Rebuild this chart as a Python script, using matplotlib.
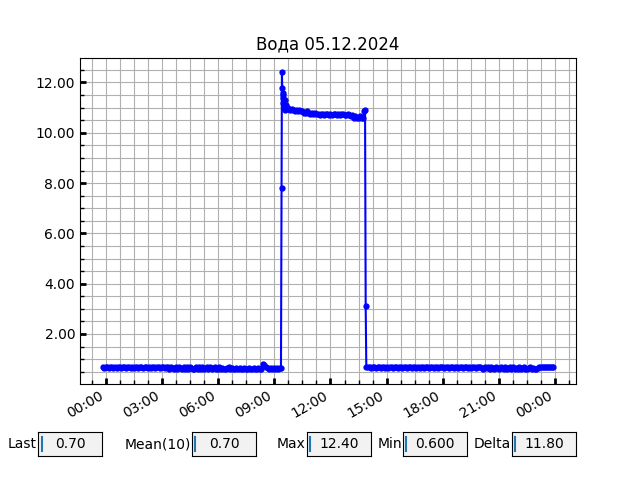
import matplotlib
matplotlib.use("Agg")
import matplotlib.pyplot as plt
import matplotlib.dates as mdates
from matplotlib.ticker import MultipleLocator, FormatStrFormatter
import pandas as pd

title = "Вода 05.12.2024"

# Morning low segment: 5-min samples starting 04.12.2024 23:48
morning_start = "2024-12-04 23:48"
morning_values = [
    0.7, 0.65, 0.7,
    0.7, 0.65, 0.7, 0.7, 0.65, 0.7, 0.65, 0.7, 0.7, 0.65, 0.7, 0.7,   # 00
    0.65, 0.7, 0.7, 0.65, 0.7, 0.65, 0.7, 0.7, 0.65, 0.7, 0.7, 0.65,  # 01
    0.7, 0.7, 0.65, 0.7, 0.65, 0.7, 0.7, 0.65, 0.7, 0.7, 0.65, 0.7,   # 02
    0.7, 0.65, 0.7, 0.7, 0.6, 0.7, 0.65, 0.6, 0.7, 0.6, 0.7, 0.65,   # 03
    0.6, 0.7, 0.6, 0.7, 0.6, 0.7, 0.65, 0.6, 0.6, 0.7, 0.6, 0.7,     # 04
    0.6, 0.7, 0.6, 0.65, 0.7, 0.6, 0.7, 0.6, 0.65, 0.7, 0.6, 0.6,    # 05
    0.7, 0.6, 0.65, 0.6, 0.6, 0.65, 0.7, 0.6, 0.65, 0.6, 0.6, 0.65,  # 06
    0.6, 0.65, 0.6, 0.6, 0.65, 0.6, 0.6, 0.65, 0.6, 0.6, 0.65, 0.6,  # 07
    0.6, 0.65, 0.6, 0.6, 0.8, 0.75, 0.7, 0.65, 0.6, 0.65, 0.6, 0.65, # 08
    0.6, 0.65, 0.6, 0.65,                                             # 09
]

# Rise: explicit times (05.12.2024) and values
rise_times = ["09:21", "09:23", "09:24", "09:25", "09:26", "09:27", "09:28",
              "09:29", "09:31", "09:33", "09:35", "09:37"]
rise_values = [0.65, 7.8, 12.4, 11.8, 11.5, 11.6, 11.2,
               11.4, 11.0, 11.3, 10.9, 11.1]

# Plateau: 5-min samples starting 09:40
plateau_start = "2024-12-05 09:40"
plateau_values = [
    10.95, 11.0, 10.9, 10.95,
    10.9, 10.85, 10.9, 10.85, 10.9, 10.85, 10.85, 10.8, 10.8, 10.85, 10.8, 10.75,
    10.8, 10.75, 10.8, 10.75, 10.75, 10.7, 10.75, 10.75, 10.7, 10.75, 10.75, 10.7,
    10.75, 10.7, 10.75, 10.75, 10.7, 10.75, 10.7, 10.75, 10.75, 10.7, 10.7, 10.75,
    10.7, 10.65, 10.7, 10.6, 10.65, 10.6, 10.6, 10.65, 10.6, 10.6,
]

# Drop: explicit times and values
drop_times = ["13:49", "13:51", "13:53", "13:55"]
drop_values = [10.85, 10.9, 3.1, 0.7]

# Evening low segment: 5-min samples starting 05.12.2024 14:01
evening_start = "2024-12-05 14:01"
evening_values = [
    0.7, 0.7, 0.65, 0.7, 0.7, 0.65, 0.7, 0.7, 0.65, 0.7, 0.7, 0.65,  # 14
    0.7, 0.65, 0.7, 0.7, 0.65, 0.7, 0.7, 0.65, 0.7, 0.7, 0.65, 0.7,  # 15
    0.7, 0.65, 0.7, 0.7, 0.65, 0.7, 0.7, 0.65, 0.7, 0.65, 0.7, 0.7,  # 16
    0.65, 0.7, 0.7, 0.65, 0.7, 0.7, 0.65, 0.7, 0.7, 0.65, 0.7, 0.7,  # 17
    0.7, 0.65, 0.7, 0.7, 0.65, 0.7, 0.7, 0.65, 0.7, 0.7, 0.65, 0.7,  # 18
    0.7, 0.65, 0.7, 0.7, 0.65, 0.7, 0.65, 0.7, 0.7, 0.65, 0.7, 0.7,  # 19
    0.7, 0.65, 0.6, 0.7, 0.65, 0.7, 0.6, 0.7, 0.65, 0.6, 0.7, 0.65,  # 20
    0.6, 0.7, 0.65, 0.6, 0.7, 0.6, 0.65, 0.7, 0.6, 0.7, 0.6, 0.65,   # 21
    0.6, 0.7, 0.6, 0.65, 0.7, 0.6, 0.6, 0.65, 0.7, 0.6, 0.65, 0.6,   # 22
    0.6, 0.65, 0.7, 0.7, 0.7, 0.7, 0.7, 0.7, 0.7, 0.7, 0.7, 0.7,     # 23
]

stat_labels = ["Last", "Mean(10)", "Max", "Min", "Delta"]
stat_values = ["0.70", "0.70", "12.40", "0.600", "11.80"]
stat_lefts = [0.06, 0.30, 0.48, 0.63, 0.80]

day = "2024-12-05 "
t_m = pd.date_range(morning_start, periods=len(morning_values), freq="5min")
t_r = pd.to_datetime([day + s for s in rise_times])
t_p = pd.date_range(plateau_start, periods=len(plateau_values), freq="5min")
t_d = pd.to_datetime([day + s for s in drop_times])
t_e = pd.date_range(evening_start, periods=len(evening_values), freq="5min")
times = list(t_m) + list(t_r) + list(t_p) + list(t_d) + list(t_e)
values = morning_values + rise_values + plateau_values + drop_values + evening_values

fig = plt.figure(figsize=(6.4, 4.8), dpi=100)
ax = fig.add_subplot(111)
ax.plot(times, values, "b.-", markersize=7)
ax.set_title(title)

ax.xaxis.set_major_locator(mdates.HourLocator(byhour=range(0, 24, 3)))
ax.xaxis.set_major_formatter(mdates.DateFormatter("%H:%M"))
ax.xaxis.set_minor_locator(MultipleLocator(45 / 1440))
ax.yaxis.set_major_locator(MultipleLocator(2))
ax.yaxis.set_minor_locator(MultipleLocator(0.5))
ax.yaxis.set_major_formatter(FormatStrFormatter("%.2f"))
ax.grid(True, which="both", color="#b0b0b0", lw=0.8)
ax.set_axisbelow(True)
ax.tick_params(which="both", direction="in")
ax.tick_params(which="major", length=4, width=2)
ax.tick_params(which="minor", length=3, width=1)
fig.autofmt_xdate()
fig.subplots_adjust(left=0.125, right=0.9, top=0.88, bottom=0.2)

for lab, val, left in zip(stat_labels, stat_values, stat_lefts):
    bax = fig.add_axes([left, 0.05, 0.1, 0.05])
    bax.set_facecolor("0.95")
    bax.set_xticks([])
    bax.set_yticks([])
    bax.set_xlim(0, 1)
    bax.set_ylim(0, 1)
    bax.text(0.5, 0.5, val, ha="center", va="center", fontsize=10)
    bax.plot([0.05, 0.05], [0.2, 0.8], color="#1f77b4", lw=1.5)
    bax.text(-0.02, 0.5, lab, ha="right", va="center", fontsize=10,
             transform=bax.transAxes)

fig.savefig("out.png", dpi=100)
